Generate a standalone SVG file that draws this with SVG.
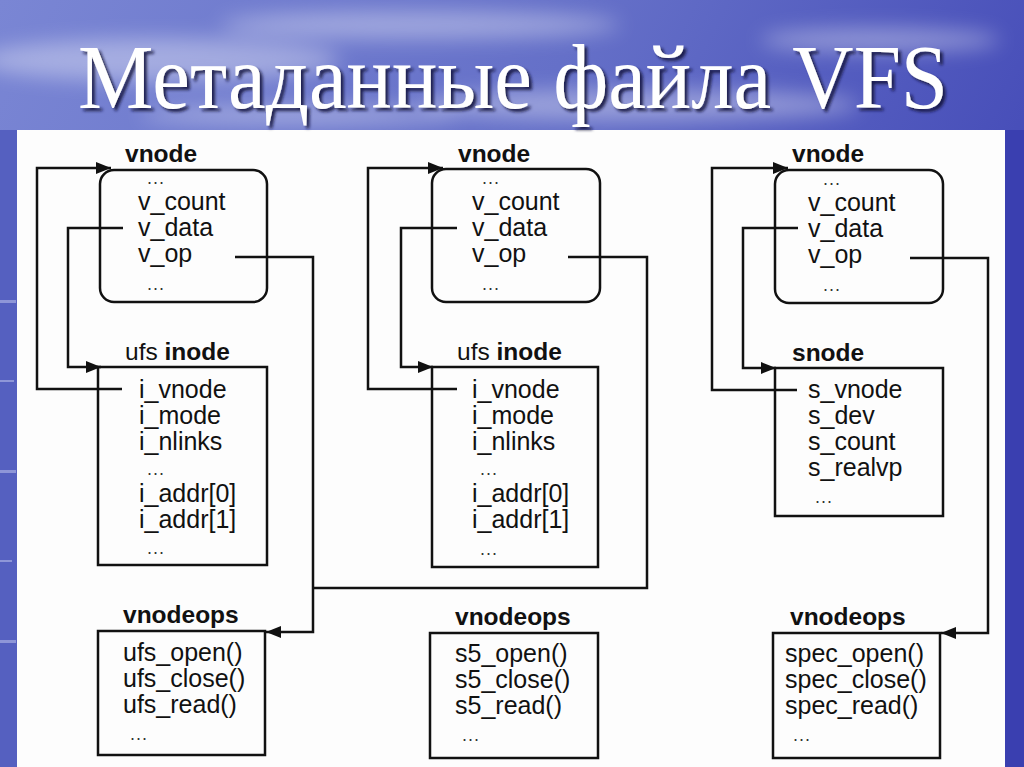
<svg xmlns="http://www.w3.org/2000/svg" width="1024" height="767" viewBox="0 0 1024 767">
  <defs>
    <linearGradient id="sky" x1="0" y1="0" x2="1" y2="0.4">
      <stop offset="0" stop-color="#7a86d4"/>
      <stop offset="0.5" stop-color="#6570c8"/>
      <stop offset="1" stop-color="#4248b6"/>
    </linearGradient>
    <filter id="blur" x="-20%" y="-50%" width="140%" height="200%">
      <feGaussianBlur stdDeviation="10"/>
    </filter>
    <filter id="shadow" x="-10%" y="-50%" width="120%" height="200%">
      <feGaussianBlur in="SourceAlpha" stdDeviation="1.5" result="b"/>
      <feOffset in="b" dx="3" dy="3" result="o"/>
      <feFlood flood-color="#14143a" flood-opacity="0.85"/>
      <feComposite in2="o" operator="in" result="s"/>
      <feMerge>
        <feMergeNode in="s"/>
        <feMergeNode in="SourceGraphic"/>
      </feMerge>
    </filter>
    <marker id="arr" markerUnits="userSpaceOnUse" markerWidth="16" markerHeight="12" refX="15" refY="6" orient="auto">
      <path d="M0,0 L15,6 L0,12 z" fill="#111"/>
    </marker>
    <style>
      .box { fill: none; stroke: #111; stroke-width: 2.5; }
      .conn { fill: none; stroke: #111; stroke-width: 2.5; marker-end: url(#arr); }
      .lbl { font-family: "Liberation Sans", Arial, sans-serif; font-size: 24.5px; font-weight: bold; fill: #111; }
      .reg { font-weight: normal; }
      .item { font-family: "Liberation Sans", Arial, sans-serif; font-size: 25px; fill: #111; }
      .dots { font-family: "Liberation Sans", Arial, sans-serif; font-size: 18px; fill: #333; letter-spacing: 1px; }
      .title { font-family: "Liberation Serif", "Times New Roman", serif; font-size: 91px; fill: #ffffff; }
    </style>
  </defs>

  <!-- background -->
  <rect x="0" y="0" width="1024" height="767" fill="url(#sky)"/>
  <rect x="0" y="130" width="20" height="637" fill="#5560c0"/>
  <rect x="1003" y="130" width="21" height="637" fill="#3a3fb0"/>
  <g filter="url(#blur)" fill="#ffffff" opacity="0.35">
    <ellipse cx="160" cy="60" rx="180" ry="22"/>
    <ellipse cx="420" cy="25" rx="200" ry="14"/>
    <ellipse cx="640" cy="105" rx="220" ry="16"/>
    <ellipse cx="880" cy="40" rx="120" ry="12"/>
    <ellipse cx="300" cy="115" rx="160" ry="10"/>
  </g>
  <g fill="#c8ccf0" opacity="0.5">
    <rect x="0" y="300" width="16" height="3"/>
    <rect x="0" y="380" width="14" height="2"/>
    <rect x="0" y="470" width="16" height="3"/>
    <rect x="0" y="560" width="12" height="2"/>
    <rect x="0" y="640" width="16" height="3"/>
  </g>

  <!-- white panel -->
  <rect x="17" y="130" width="988" height="637" fill="#fdfdfd"/>

  <!-- title -->
  <text class="title" x="78" y="108" textLength="870" lengthAdjust="spacingAndGlyphs" filter="url(#shadow)">Метаданные файла VFS</text>

  <!-- connectors -->
  <g id="connectors">
    <path class="conn" d="M 122 389 H 37 V 168 H 111"/>
    <path class="conn" d="M 123 228 H 68 V 367 H 101"/>
    <path class="conn" d="M 235 257 H 313 V 632 H 266"/>
    <path class="conn" d="M 457 389 H 368 V 168 H 443"/>
    <path class="conn" d="M 457 228 H 401 V 367 H 433"/>
    <path d="M 568 257 H 647 V 588 H 313" fill="none" stroke="#111" stroke-width="2.5"/>
    <path class="conn" d="M 797 390 H 712 V 168 H 788"/>
    <path class="conn" d="M 798 228 H 743 V 368 H 776"/>
    <path class="conn" d="M 910 258 H 988 V 633 H 941"/>
  </g>

  <!-- column 1 -->
  <g id="vnode1">
    <text class="lbl" x="125" y="162">vnode</text>
    <rect class="box" x="100" y="170" width="167" height="132" rx="14"/>
    <text class="dots" x="147" y="184">...</text>
    <text class="item" x="138" y="210">v_count</text>
    <text class="item" x="138" y="236">v_data</text>
    <text class="item" x="138" y="262">v_op</text>
    <text class="dots" x="147" y="290">...</text>
  </g>
  <g id="ufsinode1">
    <text class="lbl" x="125" y="360"><tspan class="reg">ufs </tspan>inode</text>
    <rect class="box" x="98" y="367" width="169" height="198"/>
    <text class="item" x="139" y="398">i_vnode</text>
    <text class="item" x="139" y="424">i_mode</text>
    <text class="item" x="139" y="450">i_nlinks</text>
    <text class="dots" x="147" y="475">...</text>
    <text class="item" x="139" y="502">i_addr[0]</text>
    <text class="item" x="139" y="528">i_addr[1]</text>
    <text class="dots" x="147" y="554">...</text>
  </g>
  <g id="vnodeops1">
    <text class="lbl" x="123" y="623">vnodeops</text>
    <rect class="box" x="98" y="631" width="167" height="124"/>
    <text class="item" x="123" y="661">ufs_open()</text>
    <text class="item" x="123" y="687">ufs_close()</text>
    <text class="item" x="123" y="713">ufs_read()</text>
    <text class="dots" x="130" y="740">...</text>
  </g>

  <!-- column 2 -->
  <g id="vnode2">
    <text class="lbl" x="458" y="162">vnode</text>
    <rect class="box" x="432" y="169" width="168" height="133" rx="14"/>
    <text class="dots" x="482" y="184">...</text>
    <text class="item" x="472" y="210">v_count</text>
    <text class="item" x="472" y="236">v_data</text>
    <text class="item" x="472" y="262">v_op</text>
    <text class="dots" x="482" y="290">...</text>
  </g>
  <g id="ufsinode2">
    <text class="lbl" x="457" y="360"><tspan class="reg">ufs </tspan>inode</text>
    <rect class="box" x="432" y="367" width="166" height="200"/>
    <text class="item" x="472" y="398">i_vnode</text>
    <text class="item" x="472" y="424">i_mode</text>
    <text class="item" x="472" y="450">i_nlinks</text>
    <text class="dots" x="480" y="475">...</text>
    <text class="item" x="472" y="502">i_addr[0]</text>
    <text class="item" x="472" y="528">i_addr[1]</text>
    <text class="dots" x="480" y="555">...</text>
  </g>
  <g id="vnodeops2">
    <text class="lbl" x="455" y="625">vnodeops</text>
    <rect class="box" x="430" y="633" width="168" height="125"/>
    <text class="item" x="455" y="662">s5_open()</text>
    <text class="item" x="455" y="688">s5_close()</text>
    <text class="item" x="455" y="714">s5_read()</text>
    <text class="dots" x="462" y="741">...</text>
  </g>

  <!-- column 3 -->
  <g id="vnode3">
    <text class="lbl" x="792" y="162">vnode</text>
    <rect class="box" x="775" y="170" width="168" height="133" rx="14"/>
    <text class="dots" x="823" y="185">...</text>
    <text class="item" x="808" y="211">v_count</text>
    <text class="item" x="808" y="237">v_data</text>
    <text class="item" x="808" y="263">v_op</text>
    <text class="dots" x="823" y="291">...</text>
  </g>
  <g id="snode3">
    <text class="lbl" x="792" y="361">snode</text>
    <rect class="box" x="775" y="368" width="168" height="148"/>
    <text class="item" x="808" y="398">s_vnode</text>
    <text class="item" x="808" y="424">s_dev</text>
    <text class="item" x="808" y="450">s_count</text>
    <text class="item" x="808" y="476">s_realvp</text>
    <text class="dots" x="815" y="503">...</text>
  </g>
  <g id="vnodeops3">
    <text class="lbl" x="790" y="625">vnodeops</text>
    <rect class="box" x="773" y="633" width="167" height="125"/>
    <text class="item" x="785" y="662">spec_open()</text>
    <text class="item" x="785" y="688">spec_close()</text>
    <text class="item" x="785" y="714">spec_read()</text>
    <text class="dots" x="793" y="741">...</text>
  </g>
</svg>
